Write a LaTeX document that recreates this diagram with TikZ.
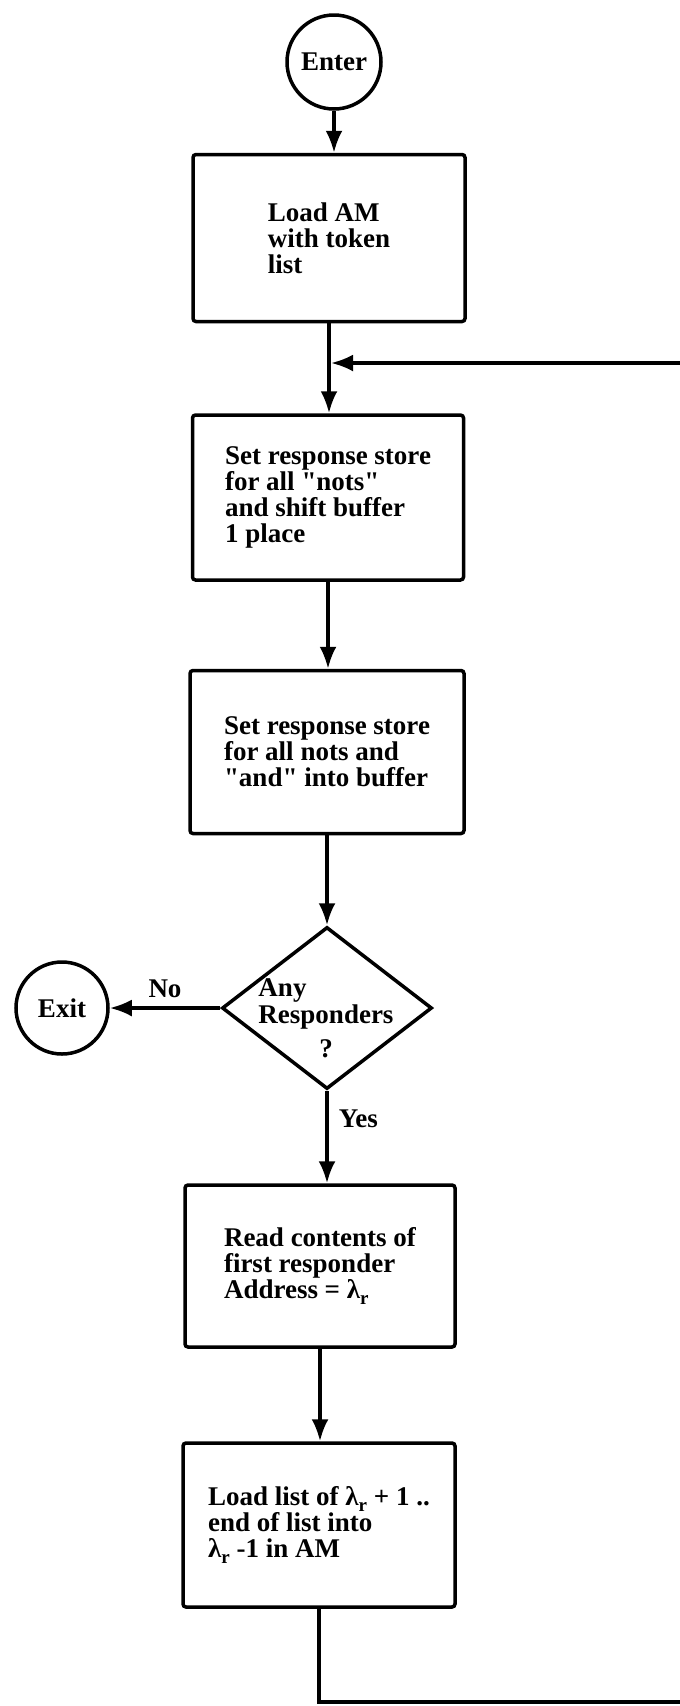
\documentclass[tikz,border=0pt]{standalone}
\usepackage{fontspec}
\setmainfont{Liberation Serif}
\usetikzlibrary{shapes.geometric, arrows.meta}
% type used throughout the chart
\newcommand\chartfont{\fontsize{27pt}{26pt}\selectfont\bfseries}
% lambda with subscript r
\newcommand\lamr{λ\raisebox{-6pt}{\fontsize{19pt}{19pt}\selectfont r}}
% straight double quote
\newcommand\dq{\textquotedbl}

\begin{document}
\begin{tikzpicture}[x=1pt,y=-1pt,
  line/.style={line width=3.5pt},
  arr/.style={line, -{Latex[length=22pt,width=17pt]}},
  stepbox/.style={draw, line width=3.5pt, rounded corners=3pt, inner sep=0pt,
                  align=left, font=\chartfont},
  term/.style={circle, draw, line width=3.5pt, inner sep=0pt, font=\chartfont},
  decision/.style={diamond, draw, line width=3.5pt, minimum width=210pt,
                   minimum height=162pt, inner sep=0pt},
  lbl/.style={font=\chartfont, inner sep=0pt}]
\useasboundingbox (0,0) rectangle (680,1706);
\fill[white] (0,0) rectangle (680,1706);

% terminals
\node[term, minimum size=94pt] (enter) at (334,62) {Enter};
\node[term, minimum size=92pt] (exit) at (62,1008) {Exit};

% process steps
\node[stepbox, minimum width=272pt, minimum height=167pt] (b1) at (329,238)
  {Load AM\\with token\\list};
\node[stepbox, minimum width=271pt, minimum height=165pt] (b2) at (328,497.5)
  {Set response store\\for all \dq nots\dq\\and shift buffer\\1 place};
\node[stepbox, minimum width=274pt, minimum height=163pt] (b3) at (327,752)
  {Set response store\\for all nots and\\\dq and\dq{} into buffer};

% decision
\node[decision] (dec) at (327,1008) {};
\node[lbl] (dectxt) at (326,1022)
  {\begin{tabular}{@{}l@{}}Any\\Responders\\[8pt]\multicolumn{1}{@{}c@{}}{?}\end{tabular}};

\node[stepbox, minimum width=270pt, minimum height=162pt] (b4) at (320,1266)
  {Read contents of\\first responder\\Address = \lamr};
\node[stepbox, minimum width=272pt, minimum height=164pt] (b5) at (319,1525)
  {Load list of \lamr{} + 1 ..\\end of list into\\\lamr{} -1 in AM};

% loop-back path
\coordinate (loopin) at (331,363);
\coordinate (lowright) at (684,1702);

% connectors
\draw[arr] (enter) -- (enter |- b1.north);
\draw[arr] (b1) -- (b1 |- b2.north);
\draw[arr] (b2) -- (b2 |- b3.north);
\draw[arr] (b3) -- (b3 |- dec.north);
\draw[arr] (dec) -- node[lbl, above=9pt] (nolbl) {No} (exit);
\draw[arr] (dec) -- node[lbl, pos=0.3, right=10pt] (yeslbl) {Yes} (dec |- b4.north);
\draw[arr] (b4) -- (b4 |- b5.north);
\draw[arr] (b5.south) |- (lowright) |- (loopin);
\end{tikzpicture}
\end{document}
